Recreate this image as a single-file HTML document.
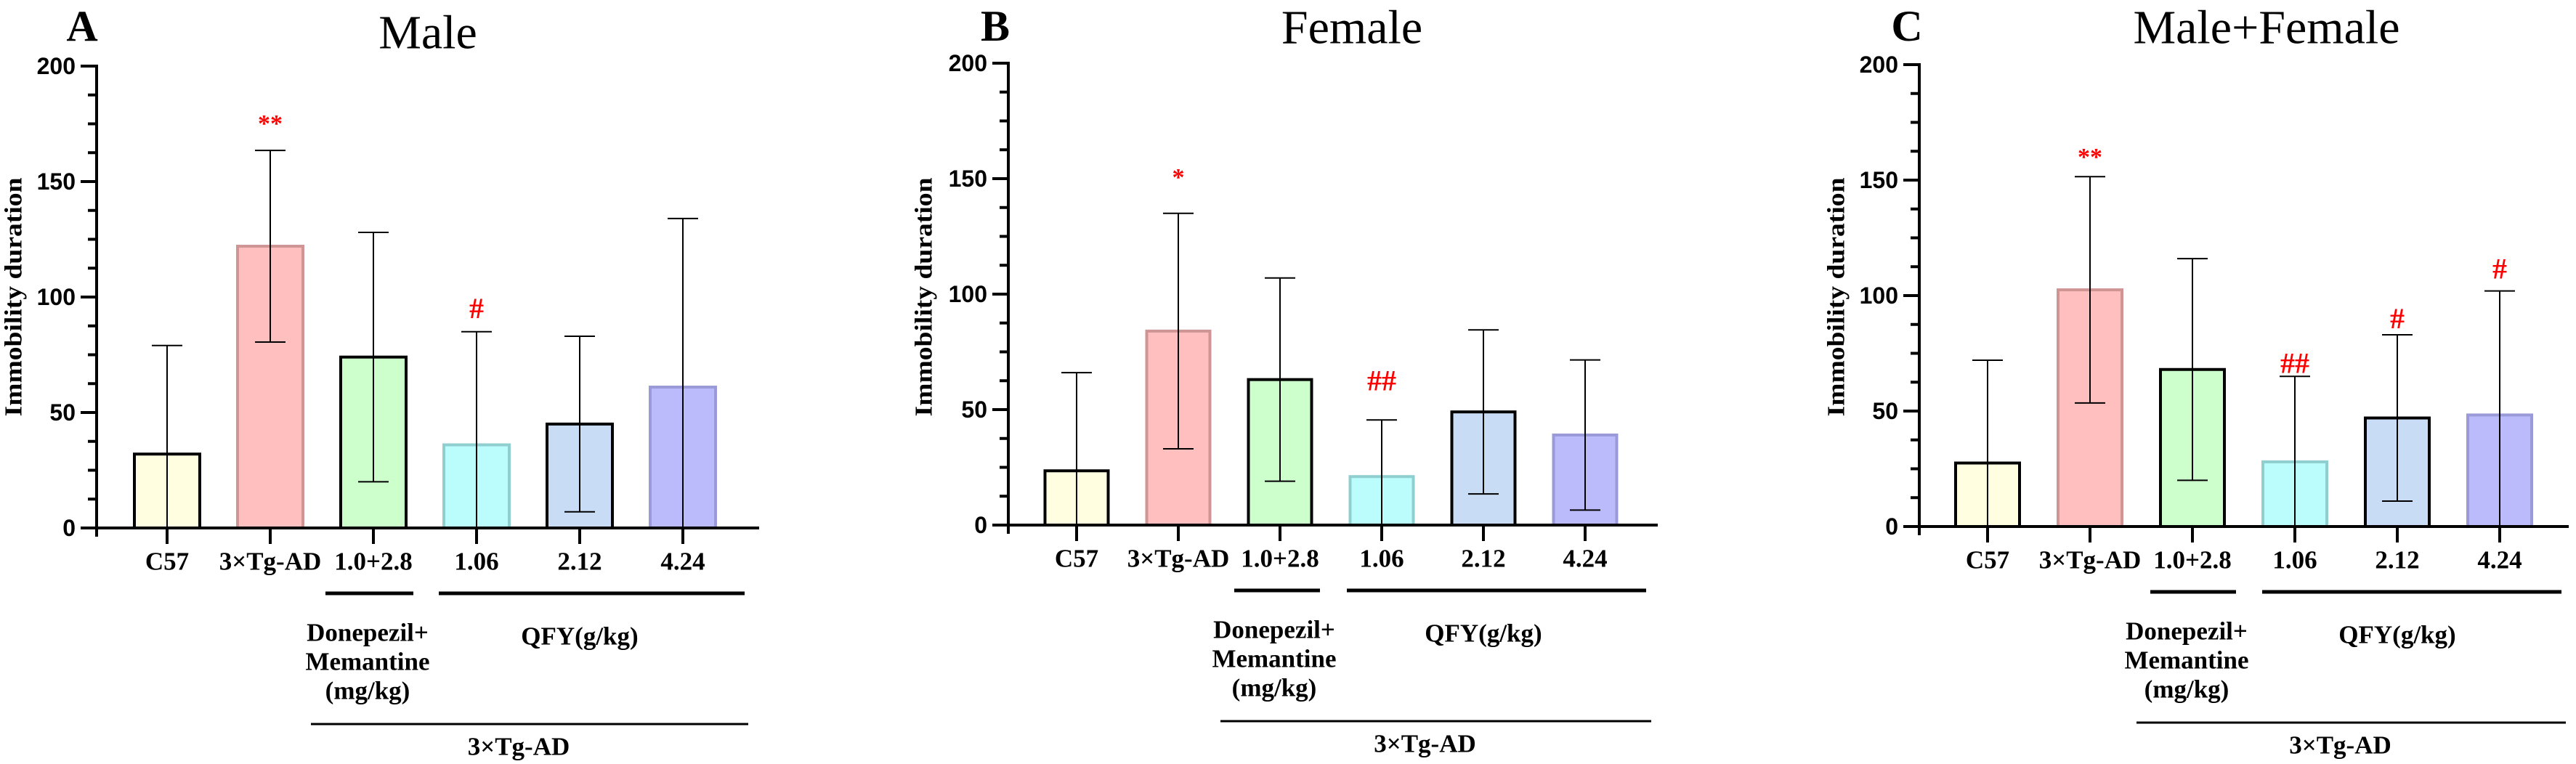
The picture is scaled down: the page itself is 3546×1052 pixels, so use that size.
<!DOCTYPE html>
<html><head><meta charset="utf-8"><style>
html,body{margin:0;padding:0;background:#fff;}
svg{display:block;}
</style></head><body>
<svg id="fig" width="3546" height="1052" viewBox="0 0 3546 1052" xmlns="http://www.w3.org/2000/svg">
<rect width="3546" height="1052" fill="#fff"/>
</svg>
<script>
const categories = ["C57","3×Tg-AD","1.0+2.8","1.06","2.12","4.24"];
const yTicks = [0,50,100,150,200];
const maleMeans = [32,122,74,36,45,61];
const maleSD = [47,41.5,54,49,38,73];
const femaleMeans = [23.5,84,63,21,49,39];
const femaleSD = [42.5,51,44,24.5,35.5,32.5];
const bothMeans = [27.5,102.5,68,28,47,48.3];
const bothSD = [44.5,49,48,37,36,53.7];
const maleMarks = ["","**","","#","",""];
const maleMarkVals = [0,177,0,95,0,0];
const femaleMarks = ["","*","","##","",""];
const femaleMarkVals = [0,152.5,0,62.5,0,0];
const bothMarks = ["","**","","##","#","#"];
const bothMarkVals = [0,162,0,70.6,90,111.5];

const fills = ["#fffee0","#ffbfbf","#ccffcc","#bbfcfc","#c8dcf6","#bbbbfc"];
const strokes = ["#000","#cf9595","#000","#8fcfcf","#000","#9a9ad8"];
const NS = "http://www.w3.org/2000/svg";
const svg = document.getElementById("fig");
function mk(tag, attrs, parent, text){
  const e = document.createElementNS(NS, tag);
  for (const k in attrs) e.setAttribute(k, attrs[k]);
  if (text !== undefined) e.textContent = text;
  parent.appendChild(e);
  return e;
}
const panels = [
  {letter:"A", title:"Male", means:maleMeans, sd:maleSD, marks:maleMarks, markVals:maleMarkVals,
   ax:133, y0:727, first:97, sp:142, bw:90, len:912, titleX:456, titleY:45, u1:[315,436], u2:[471,892], ub:[295,897], letterX:113, ylab:-114},
  {letter:"B", title:"Female", means:femaleMeans, sd:femaleSD, marks:femaleMarks, markVals:femaleMarkVals,
   ax:1388, y0:723, first:94, sp:140, bw:87, len:894, titleX:473, titleY:38, u1:[311,429], u2:[466,878], ub:[292,885], letterX:1370, ylab:-116},
  {letter:"C", title:"Male+Female", means:bothMeans, sd:bothSD, marks:bothMarks, markVals:bothMarkVals,
   ax:2642, y0:725, first:94, sp:141, bw:88, len:894, titleX:478, titleY:38, u1:[318,436], u2:[472,884], ub:[299,890], letterX:2625, ylab:-114}
];
const serif = "'Liberation Serif', serif";
const sans = "'Liberation Sans', sans-serif";

panels.forEach(p => {
  const Y0 = p.y0, Y200 = p.y0 - 636;
  const yS = v => Y0 - (v/200)*(Y0-Y200);
  const g = mk("g", {}, svg);
  
  
  const xS = i => p.ax + p.first + i*p.sp;
  const L = mk("text", {x:p.letterX, y:36, "font-family":serif, "font-weight":"bold", "font-size":60, "text-anchor":"middle", "dominant-baseline":"central"}, g, p.letter);
  
  
  const T = mk("text", {x:p.ax+p.titleX, y:p.titleY, "font-family":serif, "font-size":66, "text-anchor":"middle", "dominant-baseline":"central"}, g, p.title);
  
  
  const YL = mk("text", {x:0, y:0, transform:`translate(${p.ax+p.ylab},409) rotate(-90)`, "font-family":serif, "font-weight":"bold", "font-size":34, "text-anchor":"middle", "dominant-baseline":"central", textLength:329, lengthAdjust:"spacingAndGlyphs"}, g, "Immobility duration");
  
  
  p.means.forEach((m,i) => {
    const cx = xS(i);
    const r = mk("rect", {x:cx-p.bw/2, y:yS(m), width:p.bw, height:yS(0)-yS(m), fill:fills[i], stroke:strokes[i], "stroke-width":4}, g);
    
    
  });
  p.means.forEach((m,i) => {
    const cx = xS(i);
    const hi = m + p.sd[i], lo = m - p.sd[i];
    const eg = mk("g", {stroke:"#000", "stroke-width":2}, g);
    
    
    mk("line", {x1:cx, x2:cx, y1:yS(hi), y2:yS(Math.max(lo,0))}, eg);
    mk("line", {x1:cx-21, x2:cx+21, y1:yS(hi), y2:yS(hi)}, eg);
    if (lo >= 0) mk("line", {x1:cx-21, x2:cx+21, y1:yS(lo), y2:yS(lo)}, eg);
  });
  p.marks.forEach((t,i) => {
    if (!t) return;
    const isStar = t.indexOf("*") >= 0;
    const fs = isStar ? 34 : 40;
    const a = mk("text", {x:xS(i), y:yS(p.markVals[i]) + (isStar ? fs*0.5 : fs*0.33), fill:"#ff0000", "font-family":serif, "font-weight":"bold", "font-size":fs, "text-anchor":"middle"}, g, t);
    
    
  });
  const ya = mk("line", {x1:p.ax, x2:p.ax, y1:Y200-2, y2:Y0+12, stroke:"#000", "stroke-width":4}, g);
  
  
  const xa = mk("line", {x1:p.ax-2, x2:p.ax+p.len, y1:Y0, y2:Y0, stroke:"#000", "stroke-width":4}, g);
  
  
  for (let v=0; v<=200; v+=12.5){
    const major = yTicks.indexOf(v) >= 0;
    mk("line", {x1:p.ax-(major?22:12), x2:p.ax, y1:yS(v), y2:yS(v), stroke:"#000", "stroke-width":4}, g);
  }
  yTicks.forEach(v => {
    const t = mk("text", {x:p.ax-29, y:yS(v), "font-family":sans, "font-weight":"bold", "font-size":32, "text-anchor":"end", "dominant-baseline":"central"}, g, String(v));
    
    
  });
  categories.forEach((c,i) => {
    mk("line", {x1:xS(i), x2:xS(i), y1:Y0, y2:Y0+22, stroke:"#000", "stroke-width":4}, g);
    const t = mk("text", {x:xS(i), y:Y0+46, "font-family":serif, "font-weight":"bold", "font-size":35, "text-anchor":"middle", "dominant-baseline":"central"}, g, c);
    
    
  });
  const uy = Y0 + 90;
  const u1 = mk("line", {x1:p.ax+p.u1[0], x2:p.ax+p.u1[1], y1:uy, y2:uy, stroke:"#000", "stroke-width":5}, g);
  
  
  const u2 = mk("line", {x1:p.ax+p.u2[0], x2:p.ax+p.u2[1], y1:uy, y2:uy, stroke:"#000", "stroke-width":5}, g);
  
  
  const by = Y0 + 270;
  const ub = mk("line", {x1:p.ax+p.ub[0], x2:p.ax+p.ub[1], y1:by, y2:by, stroke:"#000", "stroke-width":3}, g);
  
  
  const dx = xS(2) - 8;
  ["Donepezil+","Memantine","(mg/kg)"].forEach((s,k) => {
    const t = mk("text", {x:dx, y:Y0+144+k*40, "font-family":serif, "font-weight":"bold", "font-size":35, "text-anchor":"middle", "dominant-baseline":"central"}, g, s);
    
    
  });
  const q = mk("text", {x:xS(4), y:Y0+149, "font-family":serif, "font-weight":"bold", "font-size":35, "text-anchor":"middle", "dominant-baseline":"central"}, g, "QFY(g/kg)");
  
  
  const tg = mk("text", {x:p.ax+(p.ub[0]+p.ub[1])/2-15, y:Y0+301, "font-family":serif, "font-weight":"bold", "font-size":35, "text-anchor":"middle", "dominant-baseline":"central"}, g, "3×Tg-AD");
  
  
});
</script>
</body></html>
